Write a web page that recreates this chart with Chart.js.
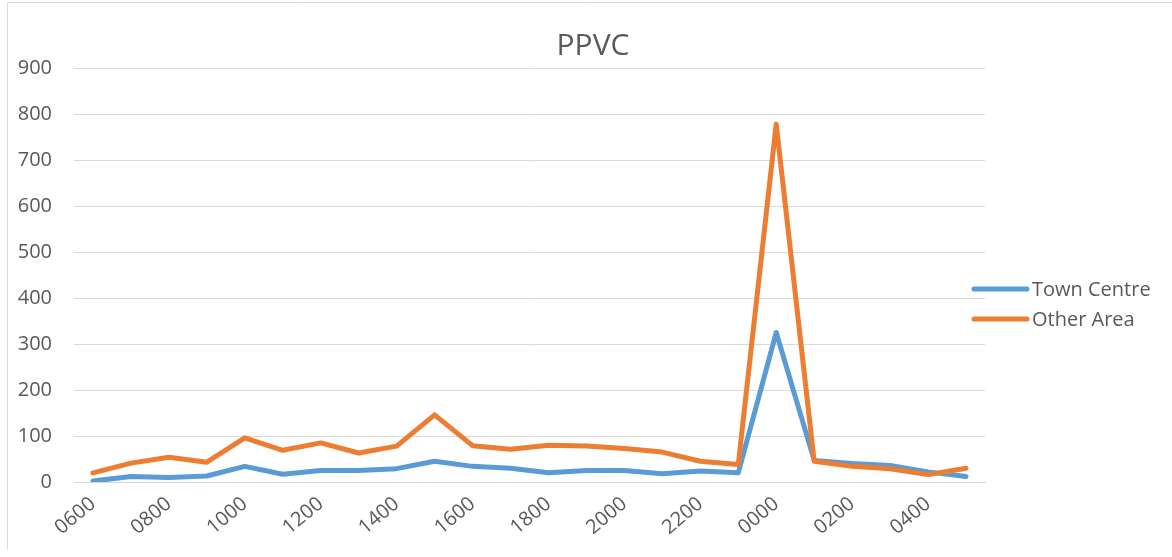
<!DOCTYPE html>
<html>
<head>
<meta charset="utf-8">
<script src="https://cdn.jsdelivr.net/npm/chart.js@4"></script>
<style>
  html, body { margin: 0; padding: 0; background: #fff; }
  #wrap { width: 1172px; height: 557px; position: relative; }
</style>
</head>
<body>
<div id="wrap"><canvas id="chart" width="1172" height="557"></canvas></div>
<script>
// hours, 0600 through 0500 next day
const hours = ['0600', '0700', '0800', '0900', '1000', '1100', '1200', '1300', '1400', '1500', '1600', '1700',
  '1800', '1900', '2000', '2100', '2200', '2300', '0000', '0100', '0200', '0300', '0400', '0500']

const townCentre = [2, 12, 10, 13, 34, 17, 25, 25, 29, 45, 34, 30,
  20, 25, 25, 18, 24, 20, 325, 47, 40, 36, 22, 12]
const otherArea = [20, 41, 54, 43, 96, 69, 85, 63, 78, 146, 79, 71,
  80, 78, 73, 65, 45, 38, 778, 45, 34, 29, 16, 30]

const yTicks = [0, 100, 200, 300, 400, 500, 600, 700, 800, 900]

const grey = '#595959'
const gridGrey = '#d9d9d9'
const blue = '#5b9bd5'
const orange = '#ed7d31'
const font = "'Open Sans', sans-serif"

// frame, title and legend drawn by hand (excel style)
const frame = {
  id: 'frame',
  beforeDraw(chart) {
    const ctx = chart.ctx
    ctx.save()
    ctx.fillStyle = '#fff'
    ctx.fillRect(0, 0, chart.width, chart.height)
    ctx.strokeStyle = gridGrey
    ctx.lineWidth = 1
    ctx.beginPath()
    ctx.moveTo(7.5, 549)
    ctx.lineTo(7.5, 2.5)
    ctx.lineTo(chart.width, 2.5)
    ctx.stroke()
    ctx.restore()
  },
  afterDraw(chart) {
    const ctx = chart.ctx
    ctx.save()
    ctx.fillStyle = grey
    ctx.font = '30px ' + font
    ctx.textAlign = 'center'
    ctx.textBaseline = 'middle'
    ctx.fillText('PPVC', 593, 46)

    const items = [
      { label: 'Town Centre', color: blue },
      { label: 'Other Area', color: orange }
    ]
    ctx.font = '20px ' + font
    ctx.textAlign = 'left'
    ctx.lineCap = 'round'
    ctx.lineWidth = 5
    items.forEach((it, i) => {
      const y = 289 + i * 30
      ctx.strokeStyle = it.color
      ctx.beginPath()
      ctx.moveTo(974, y)
      ctx.lineTo(1027, y)
      ctx.stroke()
      ctx.fillStyle = grey
      ctx.fillText(it.label, 1032, y + 1)
    })
    ctx.restore()
  }
}

new Chart(document.getElementById('chart'), {
  type: 'line',
  data: {
    labels: hours,
    datasets: [
      {
        label: 'Town Centre',
        data: townCentre,
        borderColor: blue,
        backgroundColor: blue,
        borderWidth: 5,
        order: 2
      },
      {
        label: 'Other Area',
        data: otherArea,
        borderColor: orange,
        backgroundColor: orange,
        borderWidth: 5,
        order: 1
      }
    ]
  },
  options: {
    responsive: false,
    animation: false,
    devicePixelRatio: 1,
    layout: { padding: { left: 7, right: 187, top: 68, bottom: 0 } },
    elements: {
      point: { radius: 0, hoverRadius: 0 },
      line: { tension: 0, borderJoinStyle: 'round', borderCapStyle: 'round' }
    },
    plugins: {
      legend: { display: false },
      tooltip: { enabled: false },
      title: { display: false }
    },
    scales: {
      x: {
        offset: true,
        grid: { display: false, drawTicks: false },
        border: { display: true, color: gridGrey, width: 1 },
        ticks: {
          autoSkip: false,
          minRotation: 40,
          maxRotation: 40,
          padding: 10,
          color: grey,
          font: { family: font, size: 20 },
          callback: (v, i) => (i % 2 === 0 ? hours[i] : '')
        },
        afterFit: (s) => { s.height = 75 }
      },
      y: {
        min: 0,
        max: 900,
        afterBuildTicks: (s) => { s.ticks = yTicks.map(v => ({ value: v })) },
        grid: { color: gridGrey, lineWidth: 1, drawTicks: false },
        border: { display: false },
        ticks: {
          padding: 22,
          color: grey,
          font: { family: font, size: 20 }
        },
        afterFit: (s) => { s.width = 67 }
      }
    }
  },
  plugins: [frame]
})
</script>
</body>
</html>
